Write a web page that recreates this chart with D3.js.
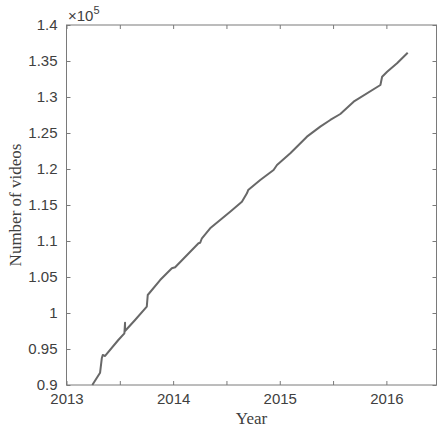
<!DOCTYPE html>
<html>
<head>
<meta charset="utf-8">
<script src="https://cdnjs.cloudflare.com/ajax/libs/d3/7.8.5/d3.min.js"></script>
<style>
  body { margin: 0; background: #fff; }
  svg { display: block; }
  .tick text { font-family: "Liberation Sans", Arial, sans-serif; font-size: 15px; fill: #404040; }
</style>
</head>
<body>
<svg width="438" height="431"></svg>
<script>
// decimal year of each sample
var years = [2013.242, 2013.315, 2013.331, 2013.340, 2013.362, 2013.486, 2013.543,
  2013.549, 2013.549, 2013.643, 2013.753, 2013.762, 2013.878, 2013.988, 2014.019,
  2014.238, 2014.254, 2014.270, 2014.347, 2014.535, 2014.645, 2014.692, 2014.704,
  2014.817, 2014.942, 2014.974, 2015.099, 2015.255, 2015.380, 2015.474, 2015.568,
  2015.693, 2015.944, 2015.960, 2016.007, 2016.100, 2016.200];
// cumulative number of videos
var videos = [90000, 91710, 93710, 94170, 94030, 96250, 97180,
  98650, 97500, 99030, 100880, 102500, 104580, 106210, 106350,
  109680, 109760, 110380, 111760, 114070, 115460, 116630, 117080,
  118470, 119860, 120560, 122180, 124490, 125880, 126810, 127640,
  129350, 131670, 132820, 133510, 134680, 136150];
var yTicks = [90000, 95000, 100000, 105000, 110000, 115000, 120000, 125000, 130000, 135000, 140000];
var xTicks = [2013, 2013.5, 2014, 2014.5, 2015, 2015.5, 2016];

var svg = d3.select("svg"),
    margin = {top: 25, right: 1.5, bottom: 46, left: 66.5},
    width = 438 - margin.left - margin.right,
    height = 431 - margin.top - margin.bottom,
    g = svg.append("g").attr("transform", "translate(" + margin.left + "," + margin.top + ")");

var x = d3.scaleLinear().domain([2013, 2016.47]).range([0, width]);
var y = d3.scaleLinear().domain([90000, 140000]).range([height, 0]);

var axisColor = "#7a7a7a";
var fmtY = function(d) { return d3.format("~g")(d / 1e5); };
var fmtX = function(d) { return d % 1 === 0 ? d : ""; };

function style(sel) {
  sel.select(".domain").remove();
  sel.selectAll(".tick line").attr("stroke", axisColor);
}

g.append("g")
    .attr("transform", "translate(0," + height + ")")
    .call(d3.axisBottom(x).tickValues(xTicks).tickFormat(fmtX).tickSizeInner(-4).tickSizeOuter(0).tickPadding(8))
    .call(style);
g.append("g")
    .call(d3.axisTop(x).tickValues(xTicks).tickFormat("").tickSizeInner(-4).tickSizeOuter(0))
    .call(style);
g.append("g")
    .call(d3.axisLeft(y).tickValues(yTicks).tickFormat(fmtY).tickSizeInner(-4).tickSizeOuter(0).tickPadding(9))
    .call(style);
g.append("g")
    .attr("transform", "translate(" + width + ",0)")
    .call(d3.axisRight(y).tickValues(yTicks).tickFormat("").tickSizeInner(-4).tickSizeOuter(0))
    .call(style);

g.append("rect")
    .attr("width", width)
    .attr("height", height)
    .attr("fill", "none")
    .attr("stroke", axisColor)
    .attr("stroke-width", 1);

var data = years.map(function(d, i) { return {t: d, v: videos[i]}; });

g.append("path")
    .datum(data)
    .attr("fill", "none")
    .attr("stroke", "#686868")
    .attr("stroke-width", 2)
    .attr("stroke-linejoin", "round")
    .attr("d", d3.line().x(function(d) { return x(d.t); }).y(function(d) { return y(d.v); }));

// exponent label
var ex = svg.append("text")
    .attr("x", 68)
    .attr("y", 21)
    .attr("font-family", "Liberation Sans, Arial, sans-serif")
    .attr("font-size", 15)
    .attr("fill", "#404040");
ex.append("tspan").text("\u00d710");
ex.append("tspan").attr("font-size", 11).attr("dy", -7).text("5");

svg.append("text")
    .attr("x", margin.left + width / 2)
    .attr("y", 424)
    .attr("text-anchor", "middle")
    .attr("font-family", "Liberation Serif, serif")
    .attr("font-size", 17)
    .attr("fill", "#404040")
    .text("Year");

svg.append("text")
    .attr("transform", "rotate(-90)")
    .attr("x", -(margin.top + height / 2))
    .attr("y", 21)
    .attr("text-anchor", "middle")
    .attr("font-family", "Liberation Serif, serif")
    .attr("font-size", 17)
    .attr("fill", "#404040")
    .text("Number of videos");
</script>
</body>
</html>
